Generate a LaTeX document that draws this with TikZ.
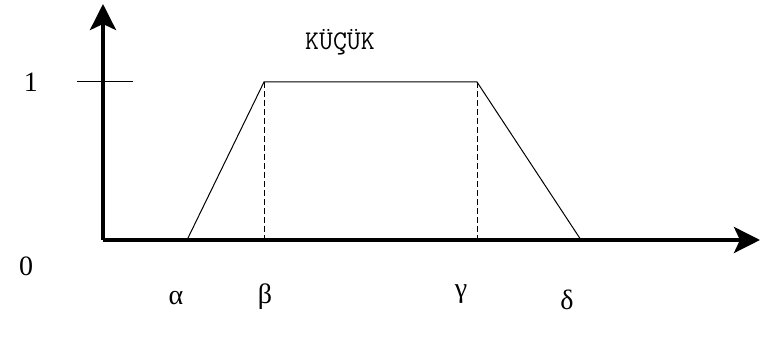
\documentclass[tikz,border=0pt]{standalone}
\usepackage{fontspec}
\setmainfont{Liberation Serif}
\usetikzlibrary{arrows.meta}

\begin{document}
\begin{tikzpicture}[x=0.5pt,y=-0.5pt,
  axis/.style={line width=2pt,-{Stealth[length=13pt,width=13pt,inset=3pt]}},
  curve/.style={line width=0.5pt},
  guide/.style={line width=0.5pt,dashed,dash pattern=on 3pt off 1.5pt},
  lbl/.style={font=\fontsize{14}{16}\selectfont,inner sep=0pt}
]
  \useasboundingbox (0,0) rectangle (762,340);
  % axes
  \coordinate (o) at (103,240);
  \coordinate (ytop) at (103,4);
  \coordinate (xend) at (760,240);
  \draw[axis] (o) -- (ytop);
  \draw[axis] (o) -- (xend);
  % tick at 1
  \coordinate (t1) at (77,82);
  \coordinate (t2) at (133,82);
  \draw[curve] (t1) -- (t2);
  % trapezoid
  \coordinate (a) at (187,240);
  \coordinate (b) at (264,82);
  \coordinate (c) at (477,82);
  \coordinate (d) at (581,240);
  \coordinate (bb) at (264,240);
  \coordinate (cb) at (477,240);
  \draw[curve] (a) -- (b) -- (c) -- (d);
  \draw[guide] (b) -- (bb);
  \draw[guide] (c) -- (cb);
  % labels
  \node[lbl] (one) at (31,82) {1};
  \node[lbl] (zero) at (26,266) {0};
  \node[inner sep=0pt,font=\ttfamily\fontsize{13.5}{15}\selectfont] (name) at (340,42) {KÜÇÜK};
  \node[lbl] (la) at (176,298) {α};
  \node[lbl] (lb) at (265,297) {β};
  \node[lbl] (lc) at (461,294) {γ};
  \node[lbl] (ld) at (567,300) {δ};
\end{tikzpicture}
\end{document}
